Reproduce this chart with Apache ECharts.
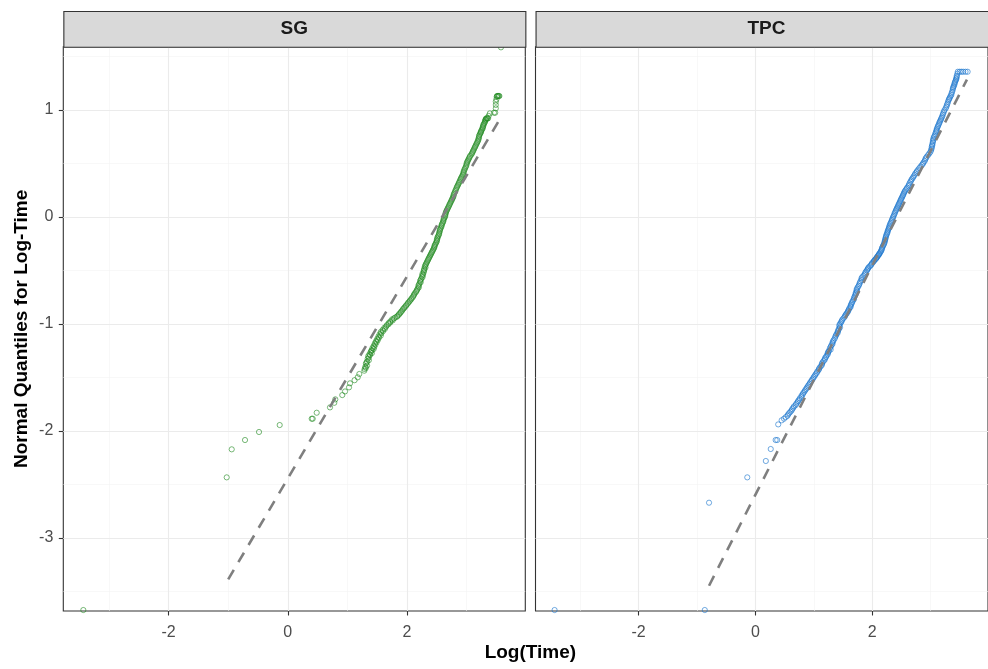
<!DOCTYPE html>
<html>
<head>
<meta charset="utf-8">
<script src="https://cdn.jsdelivr.net/npm/echarts@6/dist/echarts.min.js"></script>
<style>
  html, body { margin: 0; padding: 0; background: #fff; }
  #chart { width: 988px; height: 669px; }
</style>
</head>
<body>
<div id="chart"></div>
<script>
// Facet panels
const panels = ['SG', 'TPC'];

// Axis ranges and tick positions
const xRange = [-3.767, 3.985];
const yRange = [-3.682, 1.592];
const xMajor = [-2, 0, 2];
const xMinor = [-3, -1, 1, 3];
const yMajor = [-3, -2, -1, 0, 1];
const yMinor = [-3.5, -2.5, -1.5, -0.5, 0.5, 1.5];

// SG: [log time, normal quantile]
const sgPoints = [
  [-3.431, -3.673], [-1.025, -2.433], [-0.941, -2.171], [-0.718, -2.084], [-0.483, -2.009],
  [-0.136, -1.944], [0.401, -1.885], [0.418, -1.885], [0.485, -1.829], [0.708, -1.779],
  [0.780, -1.736], [0.797, -1.704], [0.914, -1.664], [0.960, -1.630], [1.027, -1.592],
  [1.044, -1.554], [1.120, -1.525], [1.173, -1.498], [1.200, -1.467], [1.284, -1.436],
  [1.29, -1.420], [1.30, -1.400], [1.31, -1.372], [1.33, -1.350], [1.34, -1.325],
  [1.35, -1.300], [1.37, -1.282], [1.39, -1.262], [1.41, -1.243], [1.42, -1.225],
  [1.44, -1.205], [1.46, -1.180], [1.48, -1.160], [1.50, -1.140], [1.52, -1.118],
  [1.54, -1.097], [1.56, -1.075], [1.59, -1.055], [1.62, -1.035], [1.66, -1.012],
  [1.69, -0.992], [1.72, -0.975], [1.75, -0.956], [1.80, -0.940], [1.84, -0.925],
  [1.87, -0.905], [1.90, -0.885], [1.93, -0.862], [1.96, -0.843], [1.99, -0.822],
  [2.02, -0.800], [2.05, -0.780], [2.08, -0.758], [2.11, -0.735], [2.13, -0.713],
  [2.16, -0.690], [2.18, -0.668], [2.19, -0.645], [2.21, -0.620], [2.22, -0.598],
  [2.24, -0.575], [2.25, -0.552], [2.26, -0.530], [2.28, -0.505], [2.29, -0.482],
  [2.30, -0.460], [2.32, -0.438], [2.34, -0.415], [2.36, -0.392], [2.38, -0.370],
  [2.40, -0.348], [2.42, -0.326], [2.44, -0.305], [2.46, -0.282], [2.47, -0.260],
  [2.49, -0.238], [2.50, -0.215], [2.51, -0.192], [2.53, -0.170], [2.54, -0.146],
  [2.55, -0.121], [2.57, -0.098], [2.58, -0.075], [2.60, -0.052], [2.61, -0.028],
  [2.63, -0.005], [2.64, 0.018], [2.65, 0.042], [2.67, 0.065], [2.69, 0.088],
  [2.71, 0.112], [2.73, 0.135], [2.75, 0.159], [2.77, 0.182], [2.78, 0.205],
  [2.80, 0.230], [2.82, 0.256], [2.84, 0.283], [2.86, 0.305], [2.88, 0.330],
  [2.90, 0.355], [2.92, 0.377], [2.94, 0.400], [2.95, 0.425], [2.97, 0.450],
  [2.99, 0.475], [3.00, 0.502], [3.02, 0.525], [3.04, 0.548], [3.06, 0.572],
  [3.09, 0.595], [3.11, 0.618], [3.13, 0.642], [3.15, 0.665], [3.17, 0.689],
  [3.19, 0.712], [3.20, 0.735], [3.21, 0.760], [3.23, 0.782], [3.24, 0.800],
  [3.26, 0.820], [3.27, 0.840], [3.28, 0.860], [3.30, 0.880], [3.31, 0.900],
  [3.32, 0.915], [3.33, 0.922], [3.34, 0.922], [3.35, 0.922], [3.36, 0.922],
  [3.37, 0.945], [3.39, 0.969], [3.46, 0.975], [3.48, 0.975], [3.49, 1.016],
  [3.49, 1.048], [3.49, 1.078], [3.50, 1.100], [3.505, 1.124], [3.51, 1.131],
  [3.52, 1.131], [3.53, 1.131], [3.54, 1.131], [3.55, 1.131], [3.577, 1.586],
  // second row of the dense band
  [1.31, -1.410], [1.33, -1.388], [1.32, -1.360], [1.36, -1.338], [1.36, -1.312],
  [1.38, -1.290], [1.41, -1.272], [1.40, -1.252], [1.44, -1.234], [1.45, -1.215],
  [1.47, -1.192], [1.49, -1.170], [1.51, -1.150], [1.53, -1.128], [1.56, -1.108],
  [1.57, -1.086], [1.60, -1.065], [1.63, -1.045], [1.65, -1.024], [1.69, -1.002],
  [1.72, -0.985], [1.76, -0.966], [1.78, -0.948], [1.83, -0.932], [1.86, -0.915],
  [1.89, -0.895], [1.92, -0.874], [1.95, -0.852], [1.98, -0.832], [2.01, -0.811],
  [2.04, -0.790], [2.07, -0.769], [2.10, -0.746], [2.12, -0.724], [2.15, -0.701],
  [2.17, -0.679], [2.20, -0.656], [2.20, -0.632], [2.23, -0.609], [2.23, -0.586],
  [2.26, -0.563], [2.27, -0.541], [2.28, -0.518], [2.29, -0.494], [2.31, -0.471],
  [2.31, -0.449], [2.33, -0.426], [2.35, -0.403], [2.37, -0.381], [2.39, -0.359],
  [2.41, -0.337], [2.43, -0.315], [2.45, -0.293], [2.46, -0.271], [2.48, -0.249],
  [2.50, -0.226], [2.51, -0.203], [2.52, -0.181], [2.54, -0.158], [2.55, -0.133],
  [2.56, -0.110], [2.58, -0.086], [2.59, -0.063], [2.61, -0.040], [2.62, -0.016],
  [2.64, 0.006], [2.65, 0.030], [2.66, 0.054], [2.68, 0.077], [2.70, 0.100],
  [2.72, 0.124], [2.74, 0.147], [2.76, 0.170], [2.78, 0.193], [2.79, 0.218],
  [2.81, 0.243], [2.83, 0.270], [2.85, 0.294], [2.87, 0.318], [2.89, 0.343],
  [2.91, 0.366], [2.93, 0.389], [2.95, 0.413], [2.96, 0.438], [2.98, 0.463],
  [3.00, 0.489], [3.01, 0.514], [3.03, 0.537], [3.05, 0.560], [3.08, 0.584],
  [3.10, 0.607], [3.12, 0.630], [3.14, 0.654], [3.16, 0.677], [3.18, 0.700],
  [3.20, 0.724], [3.21, 0.748], [3.22, 0.771], [3.24, 0.791], [3.25, 0.810],
  [3.27, 0.830], [3.28, 0.850], [3.29, 0.870], [3.31, 0.890], [3.32, 0.908]
];

// TPC: [log time, normal quantile]
const tpcPoints = [
  [-3.44, -3.673], [-0.867, -3.673], [-0.794, -2.670], [-0.139, -2.433], [0.179, -2.280],
  [0.263, -2.168], [0.347, -2.084], [0.374, -2.084], [0.391, -1.938], [0.45, -1.900],
  [0.52, -1.870], [0.56, -1.845], [0.60, -1.820], [0.63, -1.795], [0.66, -1.770],
  [0.70, -1.745], [0.73, -1.720], [0.76, -1.695], [0.79, -1.670], [0.82, -1.645],
  [0.85, -1.620], [0.88, -1.595], [0.91, -1.570], [0.94, -1.545], [0.97, -1.520],
  [1.00, -1.495], [1.03, -1.470], [1.06, -1.445], [1.09, -1.420], [1.12, -1.395],
  [1.14, -1.370], [1.17, -1.345], [1.19, -1.320], [1.22, -1.295], [1.24, -1.270],
  [1.26, -1.250], [1.275, -1.227], [1.30, -1.200], [1.32, -1.175], [1.34, -1.150],
  [1.37, -1.118], [1.39, -1.095], [1.41, -1.070], [1.43, -1.045], [1.44, -1.020],
  [1.455, -0.994], [1.48, -0.970], [1.51, -0.945], [1.54, -0.920], [1.566, -0.900],
  [1.59, -0.877], [1.61, -0.853], [1.63, -0.830], [1.649, -0.807], [1.67, -0.780],
  [1.69, -0.755], [1.71, -0.730], [1.72, -0.705], [1.733, -0.682], [1.755, -0.655],
  [1.78, -0.628], [1.80, -0.600], [1.817, -0.573], [1.85, -0.550], [1.88, -0.525],
  [1.91, -0.500], [1.929, -0.480], [1.96, -0.460], [1.99, -0.440], [2.02, -0.420],
  [2.042, -0.402], [2.07, -0.385], [2.09, -0.370], [2.11, -0.355], [2.125, -0.340],
  [2.15, -0.320], [2.165, -0.300], [2.181, -0.277], [2.20, -0.255], [2.215, -0.230],
  [2.225, -0.207], [2.237, -0.184], [2.25, -0.160], [2.265, -0.137], [2.28, -0.113],
  [2.294, -0.090], [2.31, -0.065], [2.33, -0.040], [2.349, -0.013], [2.37, 0.012],
  [2.39, 0.040], [2.41, 0.065], [2.43, 0.088], [2.45, 0.112], [2.47, 0.135],
  [2.489, 0.159], [2.51, 0.182], [2.53, 0.205], [2.55, 0.230], [2.573, 0.252],
  [2.60, 0.275], [2.63, 0.300], [2.656, 0.330], [2.68, 0.355], [2.71, 0.380],
  [2.74, 0.408], [2.77, 0.430], [2.81, 0.458], [2.852, 0.486], [2.88, 0.510],
  [2.91, 0.538], [2.936, 0.564], [2.98, 0.595], [3.01, 0.626], [3.02, 0.655],
  [3.03, 0.680], [3.04, 0.710], [3.049, 0.735], [3.07, 0.760], [3.09, 0.790],
  [3.104, 0.813], [3.12, 0.840], [3.14, 0.865], [3.159, 0.891], [3.18, 0.915],
  [3.20, 0.940], [3.216, 0.969], [3.24, 1.000], [3.272, 1.031], [3.29, 1.060],
  [3.310, 1.093], [3.33, 1.115], [3.356, 1.140], [3.37, 1.170], [3.384, 1.203],
  [3.40, 1.225], [3.411, 1.250], [3.43, 1.275], [3.440, 1.296], [3.45, 1.320],
  [3.468, 1.358], [3.50, 1.358], [3.53, 1.358], [3.56, 1.358], [3.60, 1.358],
  [3.636, 1.358],
  // second row of the dense band
  [0.49, -1.885], [0.55, -1.858], [0.58, -1.832], [0.62, -1.808], [0.65, -1.782],
  [0.69, -1.758], [0.72, -1.732], [0.75, -1.708], [0.79, -1.682], [0.81, -1.658],
  [0.84, -1.632], [0.87, -1.608], [0.90, -1.582], [0.93, -1.558], [0.96, -1.532],
  [0.99, -1.508], [1.02, -1.482], [1.05, -1.458], [1.08, -1.432], [1.10, -1.408],
  [1.14, -1.382], [1.15, -1.358], [1.19, -1.332], [1.21, -1.308], [1.24, -1.282],
  [1.25, -1.260], [1.29, -1.238], [1.29, -1.213], [1.32, -1.188], [1.33, -1.162],
  [1.36, -1.134], [1.38, -1.106], [1.41, -1.082], [1.42, -1.058], [1.45, -1.032],
  [1.44, -1.007], [1.47, -0.982], [1.49, -0.958], [1.53, -0.932], [1.55, -0.910],
  [1.58, -0.888], [1.60, -0.865], [1.63, -0.842], [1.64, -0.818], [1.66, -0.794],
  [1.69, -0.768], [1.70, -0.742], [1.72, -0.718], [1.74, -0.694], [1.74, -0.668],
  [1.77, -0.642], [1.79, -0.614], [1.82, -0.587], [1.83, -0.562], [1.87, -0.538],
  [1.89, -0.512], [1.92, -0.490], [1.94, -0.470], [1.98, -0.450], [2.00, -0.430],
  [2.03, -0.411], [2.06, -0.394], [2.08, -0.378], [2.10, -0.362], [2.12, -0.348],
  [2.14, -0.330], [2.16, -0.310], [2.17, -0.289], [2.19, -0.266], [2.21, -0.243],
  [2.22, -0.219], [2.23, -0.196], [2.24, -0.172], [2.26, -0.149], [2.27, -0.125],
  [2.29, -0.102], [2.30, -0.078], [2.32, -0.053], [2.34, -0.027], [2.36, 0.000],
  [2.38, 0.026], [2.40, 0.053], [2.42, 0.077], [2.44, 0.100], [2.46, 0.124],
  [2.48, 0.147], [2.50, 0.171], [2.52, 0.194], [2.54, 0.218], [2.56, 0.241],
  [2.59, 0.264], [2.62, 0.288], [2.64, 0.315], [2.67, 0.343], [2.70, 0.368],
  [2.73, 0.394], [2.76, 0.419], [2.79, 0.444], [2.83, 0.472], [2.87, 0.498],
  [2.90, 0.524], [2.92, 0.551], [2.96, 0.580], [3.00, 0.610], [3.02, 0.640],
  [3.03, 0.668], [3.04, 0.695], [3.05, 0.722], [3.06, 0.748], [3.08, 0.775],
  [3.10, 0.802], [3.11, 0.826], [3.13, 0.852], [3.15, 0.878], [3.17, 0.903],
  [3.19, 0.928], [3.21, 0.955], [3.23, 0.985], [3.26, 1.016], [3.28, 1.046],
  [3.30, 1.077], [3.32, 1.104], [3.34, 1.128], [3.36, 1.155], [3.38, 1.187],
  [3.39, 1.214], [3.41, 1.238], [3.42, 1.262], [3.44, 1.285], [3.45, 1.308],
  [3.46, 1.340]
];

// Reference lines (dashed)
const sgLine = [[-1.0, -3.387], [3.57, 0.927]];
const tpcLine = [[-0.794, -3.446], [3.624, 1.285]];

const pointSets = [sgPoints, tpcPoints];
const refLines = [sgLine, tpcLine];
const pointColors = ['rgba(34,139,34,0.85)', 'rgba(24,116,205,0.85)'];

const FONT = '"Liberation Sans", Arial, sans-serif';
const panelLeft = [63.3, 535.5];
const panelTop = 46.7;
const panelW = 462;
const panelH = 564.3;
const stripTop = 11;

const majorGrid = { color: '#ebebeb', width: 1.1, type: 'solid' };
const minorGrid = { color: '#f3f3f3', width: 0.6, type: 'solid' };

function gridLines() {
  const d = [];
  xMinor.forEach(v => d.push({ xAxis: v, lineStyle: minorGrid }));
  yMinor.forEach(v => d.push({ yAxis: v, lineStyle: minorGrid }));
  xMajor.forEach(v => d.push({ xAxis: v, lineStyle: majorGrid }));
  yMajor.forEach(v => d.push({ yAxis: v, lineStyle: majorGrid }));
  return d;
}

const grids = [], xAxes = [], yAxes = [], series = [], graphics = [];

panels.forEach((name, i) => {
  grids.push({
    left: panelLeft[i], top: panelTop, width: panelW, height: panelH,
    show: true, backgroundColor: '#fff', borderColor: '#333333', borderWidth: 1.1
  });
  xAxes.push({
    gridIndex: i, type: 'value', min: xRange[0], max: xRange[1],
    axisLine: { show: false, onZero: false },
    axisTick: { show: true, customValues: xMajor, length: 4.5, lineStyle: { color: '#333333', width: 1.1 } },
    axisLabel: { show: true, customValues: xMajor, fontSize: 16, color: '#4d4d4d', margin: 14, fontFamily: FONT },
    splitLine: { show: false }
  });
  yAxes.push({
    gridIndex: i, type: 'value', min: yRange[0], max: yRange[1],
    axisLine: { show: false, onZero: false },
    axisTick: { show: i === 0, customValues: yMajor, length: 4.5, lineStyle: { color: '#333333', width: 1.1 } },
    axisLabel: { show: i === 0, customValues: yMajor, fontSize: 16, color: '#4d4d4d', margin: 10, fontFamily: FONT },
    splitLine: { show: false }
  });
  series.push({
    type: 'scatter', xAxisIndex: i, yAxisIndex: i, z: 3,
    data: pointSets[i], symbol: 'circle', symbolSize: 5.2,
    itemStyle: { color: 'rgba(0,0,0,0)', borderColor: pointColors[i], borderWidth: 0.9 },
    markLine: {
      silent: true, symbol: 'none', z: 1, animation: false,
      label: { show: false }, data: gridLines()
    }
  });
  series.push({
    type: 'line', xAxisIndex: i, yAxisIndex: i, z: 4,
    data: refLines[i], symbol: 'none', silent: true,
    lineStyle: { color: '#7f7f7f', width: 2.6, type: [11, 9], cap: 'butt' }
  });
  graphics.push({
    type: 'rect', left: panelLeft[i], top: stripTop, z: 10,
    shape: { width: panelW, height: panelTop - stripTop },
    style: { fill: '#d9d9d9', stroke: '#333333', lineWidth: 1.1 }
  });
  graphics.push({
    type: 'text', z: 11, x: panelLeft[i] + panelW / 2, y: (stripTop + panelTop) / 2,
    style: { text: name, fill: '#1a1a1a', font: 'bold 19px ' + FONT, align: 'center', verticalAlign: 'middle' }
  });
});

graphics.push({
  type: 'text', z: 11, x: (panelLeft[0] + panelLeft[1] + panelW) / 2, y: 653,
  style: { text: 'Log(Time)', fill: '#000', font: 'bold 19px ' + FONT, align: 'center', verticalAlign: 'middle' }
});
graphics.push({
  type: 'text', z: 11, x: 22, y: panelTop + panelH / 2, rotation: Math.PI / 2,
  style: { text: 'Normal Quantiles for Log-Time', fill: '#000', font: 'bold 19px ' + FONT, align: 'center', verticalAlign: 'middle' }
});

const chart = echarts.init(document.getElementById('chart'), null, { renderer: 'canvas' });
chart.setOption({
  animation: false,
  backgroundColor: '#fff',
  grid: grids, xAxis: xAxes, yAxis: yAxes, series: series, graphic: graphics
});
</script>
</body>
</html>
